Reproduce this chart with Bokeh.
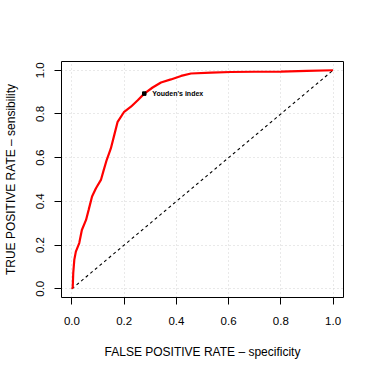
from bokeh.plotting import figure
from bokeh.models import Range1d, FixedTicker
from bokeh.embed import file_html
from bokeh.resources import INLINE
from bokeh.core.properties import value

fpr = [0.0, 0.003, 0.005, 0.009, 0.015, 0.028, 0.038, 0.054, 0.064, 0.077, 0.092,
       0.111, 0.120, 0.133, 0.149, 0.162, 0.175, 0.200, 0.226, 0.252, 0.277,
       0.309, 0.341, 0.379, 0.418, 0.456, 0.533, 0.609, 0.700, 0.800, 0.900, 1.0]
tpr = [0.0, 0.006, 0.072, 0.132, 0.170, 0.209, 0.269, 0.315, 0.361, 0.422, 0.460,
       0.498, 0.536, 0.589, 0.642, 0.703, 0.764, 0.810, 0.833, 0.863, 0.893,
       0.921, 0.944, 0.958, 0.974, 0.985, 0.989, 0.992, 0.993, 0.994, 0.997, 1.0]
youden_x = [0.277]
youden_y = [0.893]
youden_label = ["Youden's index"]
diag = [0.0, 1.0]
ticks = [0.0, 0.2, 0.4, 0.6, 0.8, 1.0]
tick_labels = {0.0: "0.0", 0.2: "0.2", 0.4: "0.4", 0.6: "0.6", 0.8: "0.8", 1.0: "1.0"}
x_title = "FALSE POSITIVE RATE – specificity"
y_title = "TRUE POSITIVE RATE – sensibility"

FONT = "Liberation Sans"

p = figure(width=374, height=374, output_backend="svg", toolbar_location=None,
           x_range=Range1d(-0.04, 1.04), y_range=Range1d(-0.04, 1.04),
           min_border_left=61, min_border_right=31, min_border_top=61, min_border_bottom=77)
p.background_fill_color = "white"
p.border_fill_color = "white"
p.outline_line_color = "black"
p.outline_line_width = 1

for ax in (p.xaxis[0], p.yaxis[0]):
    ax.ticker = FixedTicker(ticks=ticks)
    ax.major_label_overrides = tick_labels
    ax.bounds = (0, 1)
    ax.axis_line_color = "black"
    ax.major_tick_out = 7
    ax.major_tick_in = 0
    ax.minor_tick_out = 0
    ax.minor_tick_in = 0
    ax.major_label_text_font = FONT
    ax.major_label_text_font_size = "11.5px"
    ax.major_label_text_color = "black"
    ax.axis_label_text_font = FONT
    ax.axis_label_text_font_size = "12px"
    ax.axis_label_text_font_style = "normal"
    ax.axis_label_text_color = "black"

p.xaxis.axis_label = x_title
p.yaxis.axis_label = y_title
p.xaxis.major_label_standoff = 12
p.yaxis.major_label_standoff = 10
p.yaxis.major_label_orientation = "vertical"
p.xaxis.axis_label_standoff = 17
p.yaxis.axis_label_standoff = 16

for g in (p.xgrid[0], p.ygrid[0]):
    g.ticker = FixedTicker(ticks=ticks)
    g.grid_line_color = "#d3d3d3"
    g.grid_line_dash = "1 3"
    g.grid_line_width = 1

p.line(diag, diag, line_color="black", line_dash="3 3", line_width=1.1)
p.line(fpr, tpr, line_color="red", line_width=2.2)
p.scatter(youden_x, youden_y, marker="square", size=3.5, color="black")
p.text(youden_x, youden_y, text=youden_label, x_offset=8, text_baseline="middle",
       text_font=value(FONT), text_font_size="7px", text_font_style="bold", text_color="black")

open("out.html", "w").write(file_html(p, INLINE))
